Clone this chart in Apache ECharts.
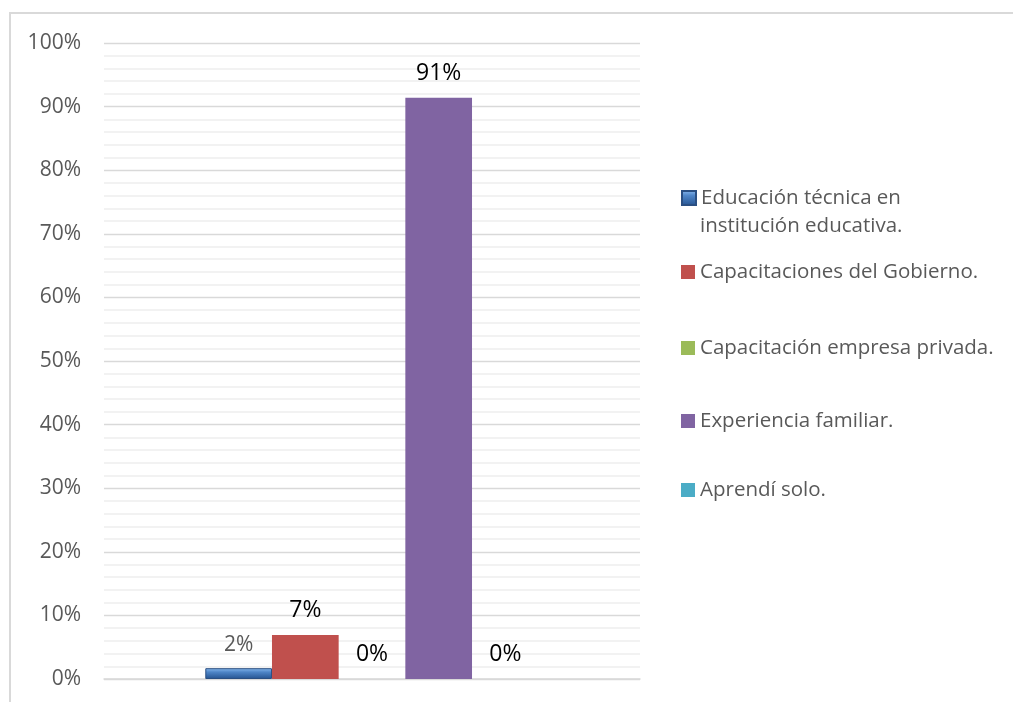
<!DOCTYPE html>
<html>
<head>
<meta charset="utf-8">
<script src="https://cdn.jsdelivr.net/npm/echarts@6/dist/echarts.min.js"></script>
<style>
html,body{margin:0;padding:0;background:#fff;}
#c{width:1013px;height:702px;}
</style>
</head>
<body>
<div id="c"></div>
<script>
var categories = [''];
var seriesNames = [
  'Educación técnica en institución educativa.',
  'Capacitaciones del Gobierno.',
  'Capacitación empresa privada.',
  'Experiencia familiar.',
  'Aprendí solo.'
];
var seriesValues = [1.7, 6.9, 0, 91.4, 0];
var yTicks = [0, 10, 20, 30, 40, 50, 60, 70, 80, 90, 100];

var FONT = 'Open Sans';
var colors = [
  {type:'linear',x:0,y:0,x2:0,y2:1,colorStops:[
    {offset:0,color:'#8cbcf0'},{offset:0.35,color:'#4f86c8'},{offset:1,color:'#24528f'}]},
  '#c0504d','#9bbb59','#8064a2','#4bacc6'
];
var labelColors = ['#595959','#000','#000','#000','#000'];
var legendCenters = [198, 272, 348, 421, 490];

var series = seriesNames.map(function(name, i){
  return {
    name: name,
    type: 'bar',
    barGap: '0%',
    barCategoryGap: '37.8%',
    data: [seriesValues[i]],
    itemStyle: i === 0 ? {color: colors[i], borderColor:'#2a4f82', borderWidth:1} : {color: colors[i]},
    label: {
      show: true,
      position: 'top',
      distance: 13,
      fontFamily: FONT,
      fontSize: i === 0 ? 21 : 23,
      color: labelColors[i],
      formatter: function(p){ return Math.round(p.value) + '%'; }
    }
  };
});

var legends = seriesNames.map(function(name, i){
  return {
    orient: 'vertical',
    left: 681,
    top: legendCenters[i] - 11,
    padding: 0,
    itemWidth: 14,
    itemHeight: 14,
    icon: 'rect',
    selectedMode: false,
    data: [name],
    formatter: function(n){ return i === 0 ? 'Educación técnica en' : n; },
    textStyle: {fontFamily: FONT, fontSize: 20.5, color: '#595959', lineHeight: 22}
  };
});

var chart = echarts.init(document.getElementById('c'));
chart.setOption({
  animation: false,
  color: colors,
  grid: {left: 104, right: 373, top: 43, bottom: 23, containLabel: false},
  legend: legends,
  xAxis: {
    type: 'category',
    data: categories,
    axisLine: {show: true, lineStyle: {color: '#d9d9d9', width: 1.5}},
    axisTick: {show: false},
    axisLabel: {show: false}
  },
  yAxis: {
    type: 'value',
    min: yTicks[0],
    max: yTicks[yTicks.length - 1],
    interval: 10,
    axisLine: {show: false},
    axisTick: {show: false},
    axisLabel: {
      margin: 23,
      fontFamily: FONT,
      fontSize: 21,
      color: '#595959',
      formatter: '{value}%'
    },
    splitLine: {show: true, lineStyle: {color: '#d9d9d9', width: 1.3}},
    minorTick: {show: false, splitNumber: 5},
    minorSplitLine: {show: true, lineStyle: {color: '#eeeeee', width: 1.5}}
  },
  graphic: [
    {type: 'rect', shape: {x: 10, y: 13, width: 1020, height: 720},
     style: {fill: 'none', stroke: '#d9d9d9', lineWidth: 2}, silent: true, z: -1},
    {type: 'text', left: 700, top: 216,
     style: {text: 'institución educativa.', font: '20.5px "Open Sans"', fill: '#595959'}}
  ],
  series: series
});
</script>
</body>
</html>
